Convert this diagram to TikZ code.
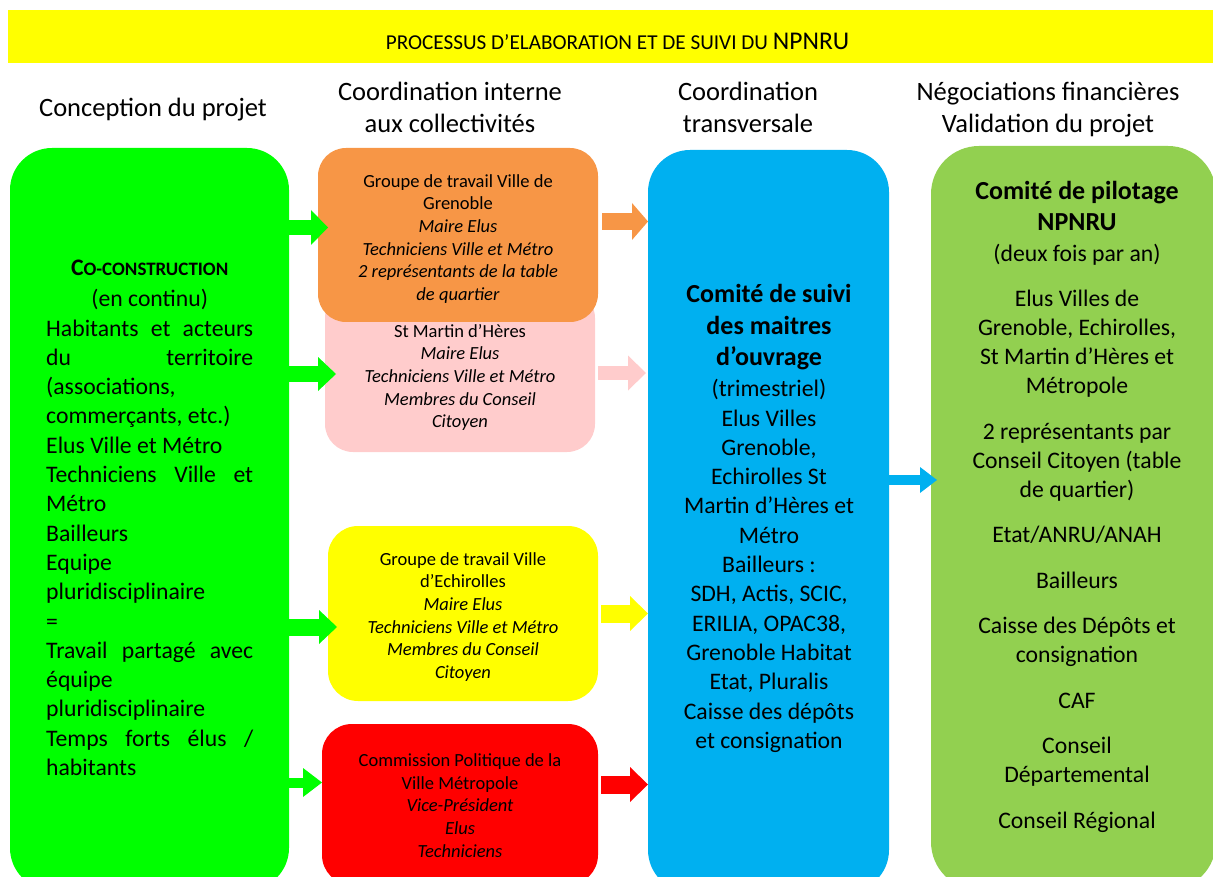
\documentclass[tikz,border=0pt]{standalone}
\usepackage{fontspec}
\setmainfont{Carlito}
\usetikzlibrary{arrows.meta}
\definecolor{titleyellow}{HTML}{FFFF00}
\definecolor{cgreen}{HTML}{00FF00}
\definecolor{corange}{HTML}{F79646}
\definecolor{cpink}{HTML}{FFCCCC}
\definecolor{cyellow}{HTML}{FFFF00}
\definecolor{cred}{HTML}{FF0000}
\definecolor{cblue}{HTML}{00B0F0}
\definecolor{colive}{HTML}{92D050}
\tikzset{
  panel/.style={rectangle, inner sep=0pt, draw=none},
  hdr/.style={font=\fontsize{26.5}{32}\selectfont, align=center, inner sep=0pt},
  smalltxt/.style={font=\fontsize{18.5}{22.7}\selectfont, align=center, inner sep=0pt},
  bodytxt/.style={font=\fontsize{23.7}{29.3}\selectfont, align=center, inner sep=0pt},
  boldtxt/.style={font=\fontsize{26}{31.5}\selectfont\bfseries, align=center, inner sep=0pt},
  barrow/.style n args={3}{line width=#1, -{Triangle[length=#3, width=#2, line width=0pt]}}
}
\begin{document}
\begin{tikzpicture}[x=1pt,y=-1pt]
\useasboundingbox (0,0) rectangle (1213,877);
\begin{scope}
\clip (0,0) rectangle (1213,877);
% title
\node[panel, fill=titleyellow, minimum width=1210pt, minimum height=53pt] (titlebar) at (613,36.5) {};
\node[inner sep=0pt, anchor=base] (ttl) at (617.5,50)
  {\fontsize{21.2}{24}\selectfont PROCESSUS D’ELABORATION ET DE SUIVI DU \fontsize{25.5}{28}\selectfont NPNRU};
% column headers
\node[hdr, anchor=base] (h1) at (153,117) {Conception du projet};
\node[hdr, anchor=north] (h2) at (450,78.3) {\strut Coordination interne\\aux collectivités};
\node[hdr, anchor=north] (h3) at (748,78.3) {\strut Coordination\\transversale};
\node[hdr, anchor=north] (h4) at (1048,78.3) {\strut Négociations financières\\Validation du projet};
% panels
\node[panel, fill=cgreen, rounded corners=42pt, minimum width=279pt, minimum height=742pt] (green) at (149.5,519) {};
\node[panel, fill=cpink, rounded corners=28pt, minimum width=270pt, minimum height=162pt] (pink) at (460,371) {};
\node[panel, fill=corange, rounded corners=28pt, minimum width=280pt, minimum height=174pt] (orange) at (458,235) {};
\node[panel, fill=cyellow, rounded corners=30pt, minimum width=270pt, minimum height=175pt] (yellow) at (463,613.5) {};
\node[panel, fill=cred, rounded corners=30pt, minimum width=276pt, minimum height=161pt] (red) at (460,804.5) {};
\node[panel, fill=cblue, rounded corners=42pt, minimum width=241pt, minimum height=742pt] (blue) at (768.5,521) {};
\node[panel, fill=colive, rounded corners=48pt, minimum width=285pt, minimum height=744pt] (olive) at (1073.5,518) {};
% texts
\node[bodytxt, align=left, anchor=north west] (greentxt) at (46,255) {%
\strut\makebox[207pt][c]{\bfseries C{\fontsize{19}{22}\selectfont O-CONSTRUCTION}}\\[1.7pt]
\makebox[207pt][c]{(en continu)}\\
\makebox[207pt][s]{Habitants et acteurs}\\
\makebox[207pt][s]{du territoire}\\
\makebox[207pt][l]{(associations,}\\
\makebox[207pt][l]{commerçants, etc.)}\\
\makebox[207pt][l]{Elus Ville et Métro}\\
\makebox[207pt][s]{Techniciens Ville et}\\
\makebox[207pt][l]{Métro}\\
\makebox[207pt][l]{Bailleurs}\\
\makebox[207pt][l]{Equipe}\\
\makebox[207pt][l]{pluridisciplinaire}\\
\makebox[207pt][l]{=}\\
\makebox[207pt][s]{Travail partagé avec}\\
\makebox[207pt][l]{équipe}\\
\makebox[207pt][l]{pluridisciplinaire}\\
\makebox[207pt][s]{Temps forts élus /}\\
\makebox[207pt][l]{habitants}};
\node[smalltxt, anchor=north] (orangetxt) at (458,171) {%
\strut Groupe de travail Ville de\\Grenoble\\\textit{Maire Elus}\\\textit{Techniciens Ville et Métro}\\\textit{2 représentants de la table}\\\textit{de quartier}};
\node[smalltxt, anchor=north] (pinktxt) at (460,321) {%
\strut St Martin d’Hères\\\textit{Maire Elus}\\\textit{Techniciens Ville et Métro}\\\textit{Membres du Conseil}\\\textit{Citoyen}};
\node[smalltxt, anchor=north] (yellowtxt) at (463,549) {%
\strut Groupe de travail Ville\\d’Echirolles\\\textit{Maire Elus}\\\textit{Techniciens Ville et Métro}\\\textit{Membres du Conseil}\\\textit{Citoyen}};
\node[smalltxt, anchor=north] (redtxt) at (460,750.4) {%
\strut Commission Politique de la\\Ville Métropole\\\textit{Vice-Président}\\\textit{Elus}\\\textit{Techniciens}};
\node[boldtxt, anchor=north] (bluehead) at (769,280.6) {\strut Comité de suivi\\des maitres\\d’ouvrage};
\node[bodytxt, anchor=north] (bluetxt) at (769,376) {%
\strut (trimestriel)\\Elus Villes\\Grenoble,\\Echirolles St\\Martin d’Hères et\\Métro\\Bailleurs :\\SDH, Actis, SCIC,\\ERILIA, OPAC38,\\Grenoble Habitat\\Etat, Pluralis\\Caisse des dépôts\\et consignation};
\node[boldtxt, font=\fontsize{26}{31}\selectfont\bfseries, anchor=north] (olivehead) at (1077,177.5) {\strut Comité de pilotage\\NPNRU};
\node[bodytxt, font=\fontsize{23.7}{29}\selectfont, anchor=north] (olivetxt) at (1077,240.5) {%
\strut (deux fois par an)\\[16.5pt]
Elus Villes de\\Grenoble, Echirolles,\\St Martin d’Hères et\\Métropole\\[16.5pt]
2 représentants par\\Conseil Citoyen (table\\de quartier)\\[16.5pt]
Etat/ANRU/ANAH\\[16.5pt]
Bailleurs\\[16.5pt]
Caisse des Dépôts et\\consignation\\[16.5pt]
CAF\\[16.5pt]
Conseil\\Départemental\\[16.5pt]
Conseil Régional};
% arrow tips
\coordinate (g1) at (328,227.5);
\coordinate (g2) at (336,374);
\coordinate (g3) at (337,627);
\coordinate (g4) at (322,782.5);
\coordinate (o1) at (648,221.5);
\coordinate (p1) at (646,373);
\coordinate (y1) at (648,613.5);
\coordinate (r1) at (648,784.5);
\coordinate (b1) at (937,480);
% arrows
\draw[cgreen, barrow={15pt}{35pt}{17pt}] (green.east |- g1) -- (g1);
\draw[cgreen, barrow={16pt}{34pt}{18pt}] (green.east |- g2) -- (g2);
\draw[cgreen, barrow={17pt}{34pt}{18pt}] (green.east |- g3) -- (g3);
\draw[cgreen, barrow={10pt}{29pt}{19pt}] (green.east |- g4) -- (g4);
\draw[corange, barrow={17pt}{37pt}{16pt}, shorten <=4pt] (orange.east |- o1) -- (o1);
\draw[cpink, barrow={14pt}{35pt}{18pt}, shorten <=3pt] (pink.east |- p1) -- (p1);
\draw[cyellow, barrow={18pt}{35pt}{18pt}, shorten <=3pt] (yellow.east |- y1) -- (y1);
\draw[cred, barrow={18pt}{35pt}{18pt}, shorten <=3pt] (red.east |- r1) -- (r1);
\draw[cblue, barrow={10pt}{26pt}{17pt}] (blue.east |- b1) -- (b1);
\end{scope}
\end{tikzpicture}
\end{document}
